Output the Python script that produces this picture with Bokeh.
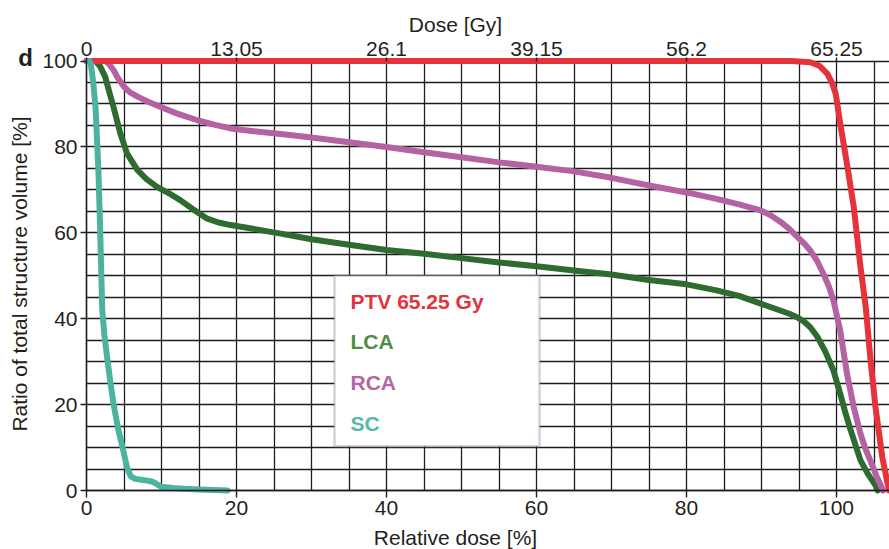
import math
from bokeh.plotting import figure
from bokeh.models import (Range1d, LinearAxis, FixedTicker, BoxAnnotation, Label, Grid)
from bokeh.embed import file_html
from bokeh.resources import INLINE

# ---------------- data ----------------
ptv_x = [0.7, 20, 40, 60, 80, 94.0, 96.5, 97.7, 98.8, 99.4, 99.9, 100.5, 101.4,
         102.3, 103.2, 103.9, 104.5, 105.2, 106.1, 107.0]
ptv_y = [100, 100, 100, 100, 100, 100, 99.7, 98.9, 97.0, 94.9, 92.3, 85.4, 76.0,
         66.0, 52.0, 42.7, 31.0, 19.4, 7.8, 0]

lca_x = [0, 1.2, 1.8, 2.5, 3.0, 3.6, 4.5, 5.4, 6.8, 8.0, 9.4, 11.0, 12.5, 14.2, 16.1,
         17.6, 19.2, 22, 25.9, 30, 35, 40, 45, 50, 55, 60, 65, 70, 75, 80, 84, 87,
         89.9, 92.5, 93.8, 94.8, 95.7, 96.5, 97.4, 98.5, 99.6, 100.5, 101.2, 101.9,
         102.6, 103.2, 104.2, 105.2, 105.5]
lca_y = [100, 100, 98.8, 96.3, 93.0, 89.3, 83.2, 78.5, 74.6, 72.5, 70.7, 69.2, 67.6,
         65.5, 63.3, 62.4, 61.8, 61.0, 59.8, 58.5, 57.2, 56.0, 55.1, 54.1, 53.1, 52.2,
         51.2, 50.3, 49.0, 48.0, 46.6, 45.3, 43.5, 41.9, 41.1, 40.3, 39.3, 38.0, 35.9,
         32.4, 27.9, 22.5, 18.0, 14.0, 10.2, 7.0, 3.8, 1.2, 0]

rca_x = [0, 2.5, 3.0, 3.6, 4.2, 5.0, 5.8, 6.8, 8.2, 9.9, 12.0, 14.8, 17.0, 19.2, 22,
         25.9, 30, 35, 40, 45, 50, 55, 60, 65, 70, 75, 80, 84, 87, 89.9, 91.3, 92.5,
         93.7, 94.8, 95.7, 96.5, 97.4, 98.3, 99.0, 99.6, 100.5, 101.4, 102.3, 103.2,
         103.8, 104.5, 105.3, 106.2]
rca_y = [100, 100, 99.3, 97.9, 96.0, 94.0, 92.7, 91.7, 90.5, 89.3, 87.8, 86.2, 85.2,
         84.3, 83.7, 83.0, 82.2, 81.1, 80.0, 78.75, 77.6, 76.4, 75.4, 74.3, 72.8, 71.0,
         69.4, 67.9, 66.6, 65.2, 64.0, 62.6, 60.9, 59.0, 57.5, 55.9, 53.5, 50.3, 47.4,
         44.2, 37.2, 27.2, 19.4, 13.2, 10.0, 7.0, 3.5, 0]

sc_x = [0.4, 0.6, 0.9, 1.2, 1.45, 1.6, 1.8, 1.95, 2.1, 2.4, 2.8, 3.2, 3.6, 4.2, 4.8,
        5.4, 5.9, 6.5, 7.3, 8.1, 8.7, 9.2, 9.9, 11.5, 13.0, 15.0, 17.0, 18.8]
sc_y = [100, 99, 95, 89.3, 80, 73.8, 62, 52, 42, 36, 30.3, 25.0, 20.2, 14.5, 10.1,
        5.4, 3.3, 2.7, 2.5, 2.3, 2.1, 1.7, 0.9, 0.6, 0.4, 0.25, 0.1, 0]

bottom_ticks = [0, 20, 40, 60, 80, 100]
top_tick_labels = ["0", "13.05", "26.1", "39.15", "56.2", "65.25"]
y_ticks = [0, 20, 40, 60, 80, 100]
grid_x = list(range(0, 110, 5))
grid_y = list(range(0, 105, 5))

series_names = ["PTV 65.25 Gy", "LCA", "RCA", "SC"]
line_colors = ["#e4333b", "#2e6b2e", "#b562a3", "#4db3a1"]
text_colors = ["#e4333b", "#4f8c46", "#b565a4", "#55b9a5"]

FONT = "Liberation Sans"
TXT = "#231f20"
GRIDC = "#1e1e1e"
FS = "21px"

# the frame covers the whole canvas; axes are pinned at x=0, y=0 and y=100
W, H = 889, 549
PX_X, PX_Y = 7.5, 4.295          # pixels per data unit
X0 = -86 / PX_X
X1 = X0 + W / PX_X
Y1 = 490 / PX_Y
Y0 = Y1 - H / PX_Y
XMAX = 107.0

p = figure(width=W, height=H, output_backend="svg", toolbar_location=None,
           x_range=Range1d(X0, X1), y_range=Range1d(Y0, Y1),
           min_border_left=0, min_border_right=0, min_border_top=0,
           min_border_bottom=0)
p.outline_line_color = None
p.background_fill_color = "white"
p.border_fill_color = "white"

# grid (limited to the data area)
if "cross_bounds" in Grid.properties():
    p.xgrid.ticker = FixedTicker(ticks=grid_x)
    p.ygrid.ticker = FixedTicker(ticks=grid_y)
    p.xgrid.bounds = (0, XMAX)
    p.xgrid.cross_bounds = (0, 100)
    p.ygrid.bounds = (0, 100)
    p.ygrid.cross_bounds = (0, XMAX)
    for g in (p.xgrid, p.ygrid):
        g.grid_line_color = GRIDC
        g.grid_line_width = 1.3
        g.grid_line_alpha = 1.0
else:
    p.xgrid.visible = False
    p.ygrid.visible = False
    p.segment(x0=grid_x, y0=[0] * len(grid_x), x1=grid_x, y1=[100] * len(grid_x),
              line_color=GRIDC, line_width=1.3)
    p.segment(x0=[0] * len(grid_y), y0=grid_y, x1=[XMAX] * len(grid_y), y1=grid_y,
              line_color=GRIDC, line_width=1.3)

def style_axis(ax):
    ax.axis_line_color = GRIDC
    ax.axis_line_width = 1.4
    ax.major_tick_line_color = GRIDC
    ax.major_tick_line_width = 1.4
    ax.major_tick_in = 0
    ax.minor_tick_line_color = None
    ax.major_label_text_font = FONT
    ax.major_label_text_font_size = FS
    ax.major_label_text_color = TXT

xa = p.xaxis[0]
xa.ticker = FixedTicker(ticks=bottom_ticks)
style_axis(xa)
xa.fixed_location = 0
xa.bounds = (0, XMAX)
xa.major_tick_out = 7
xa.major_label_standoff = 3

ya = p.yaxis[0]
ya.ticker = FixedTicker(ticks=y_ticks)
style_axis(ya)
ya.fixed_location = 0
ya.bounds = (0, 100)
ya.major_tick_out = 6
ya.major_label_standoff = 3

top = LinearAxis(ticker=FixedTicker(ticks=bottom_ticks),
                 major_label_overrides={t: s for t, s in zip(bottom_ticks, top_tick_labels)})
style_axis(top)
top.axis_line_color = None
top.fixed_location = 100
top.bounds = (0, XMAX)
top.major_tick_out = 4
top.major_label_standoff = 1
p.add_layout(top, "above")

# curves
xs = [ptv_x, lca_x, rca_x, sc_x]
ys = [ptv_y, lca_y, rca_y, sc_y]
for i in [1, 2, 0, 3]:
    p.line(xs[i], ys[i], line_color=line_colors[i], line_width=6,
           line_cap="round", line_join="round")

# legend box
p.add_layout(BoxAnnotation(left=33.07, right=60.4, top=50.0, bottom=10.3,
                           fill_color="white", fill_alpha=1.0,
                           line_color="#6b6f8f", line_width=2.5, level="overlay"))
for name, col, yy in zip(series_names, text_colors, [44.1, 34.6, 25.1, 15.7]):
    p.add_layout(Label(x=35.2, y=yy, text=name, text_color=col,
                       text_font=FONT, text_font_size=FS,
                       text_font_style="bold", text_baseline="middle",
                       text_align="left", level="overlay"))

# axis titles and panel letter
p.add_layout(Label(x=49.2, y=-10.9, text="Relative dose [%]", text_color=TXT,
                   text_font=FONT, text_font_size=FS, text_align="center",
                   text_baseline="alphabetic"))
p.add_layout(Label(x=49.2, y=108.6, text="Dose [Gy]", text_color=TXT,
                   text_font=FONT, text_font_size=FS, text_align="center",
                   text_baseline="alphabetic"))
p.add_layout(Label(x=-9.0, y=50.4, text="Ratio of total structure volume [%]",
                   text_color=TXT, text_font=FONT, text_font_size=FS,
                   text_align="center", text_baseline="middle", angle=math.pi / 2))
p.add_layout(Label(x=-8.13, y=100.8, text="d", text_color=TXT,
                   text_font=FONT, text_font_size="24px",
                   text_font_style="bold", text_align="center",
                   text_baseline="alphabetic"))

open("out.html", "w").write(file_html(p, INLINE))
